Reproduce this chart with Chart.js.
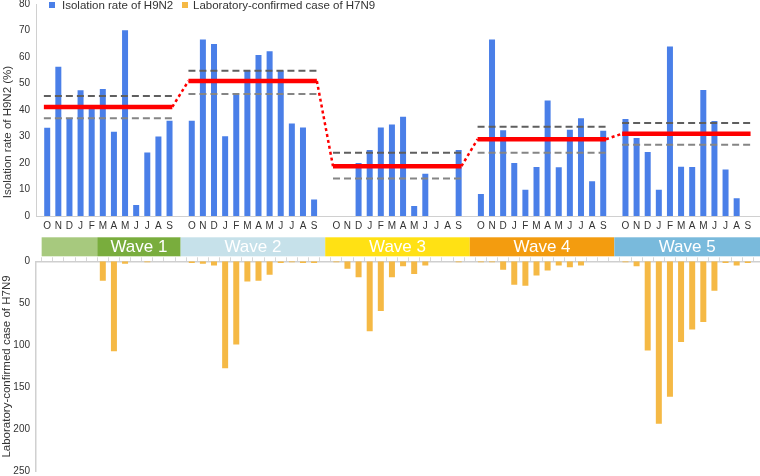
<!DOCTYPE html>
<html>
<head>
<meta charset="utf-8">
<title>H9N2 isolation rate and H7N9 cases by wave</title>
<script src="https://cdn.jsdelivr.net/npm/chart.js@4.4.1/dist/chart.umd.min.js"></script>
<style>
    html, body { margin: 0; padding: 0; background: #fff; overflow: hidden; }
    #page { position: relative; width: 760px; height: 476px; overflow: hidden; font-family: "Liberation Sans", Arial, sans-serif; color: #333; }
    #topCanvas { position: absolute; left: 0; top: -2px; }
    #bottomCanvas { position: absolute; left: 0; top: 234px; }
    .legend-box { position: absolute; width: 6px; height: 6px; top: 2px; }
    .legend-text { position: absolute; top: -2px; font-size: 11.5px; line-height: 14px; white-space: nowrap; }
    #topTitle { position: absolute; width: 200px; left: -93px; top: 125px; font-size: 11.5px; line-height: 14px; text-align: center; transform: rotate(-90deg); white-space: nowrap; }
</style>
</head>
<body>
<div id="page">
    <canvas id="topCanvas" width="760" height="238"></canvas>
    <canvas id="bottomCanvas" width="760" height="244"></canvas>
    <div class="legend-box" style="left:49px;background:#4a7fe8"></div>
    <div class="legend-text" style="left:62px">Isolation rate of H9N2</div>
    <div class="legend-box" style="left:182px;background:#f5b945"></div>
    <div class="legend-text" style="left:193px">Laboratory-confirmed case of H7N9</div>
    <div id="topTitle">Isolation rate of H9N2 (%)</div>
</div>
<script>
// Months of each surveillance year (October to September)
const months = ['O', 'N', 'D', 'J', 'F', 'M', 'A', 'M', 'J', 'J', 'A', 'S'];

// H9N2 isolation rate (%) per month, one array per wave
const h9n2Wave1 = [33.3, 56.4, 37.0, 47.5, 40.5, 48.0, 31.8, 70.2, 4.2, 24.0, 30.0, 36.0];
const h9n2Wave2 = [36.0, 66.7, 65.0, 30.1, 45.7, 54.8, 60.8, 62.2, 55.0, 34.9, 33.4, 6.2];
const h9n2Wave3 = [0, 0, 20.0, 24.9, 33.4, 34.6, 37.5, 3.8, 16.0, 0, 0, 24.9];
const h9n2Wave4 = [8.3, 66.7, 32.4, 20.0, 9.9, 18.5, 43.6, 18.4, 32.6, 36.9, 13.1, 32.2];
const h9n2Wave5 = [36.6, 29.5, 24.2, 9.9, 64.0, 18.6, 18.5, 47.6, 35.9, 17.6, 6.7, 0];

// Laboratory-confirmed H7N9 cases per month, one array per wave
const h7n9Wave1 = [0, 0, 0, 0, 0, 23, 107, 3, 0, 1, 0, 0];
const h7n9Wave2 = [2, 3, 5, 127, 99, 24, 23, 16, 2, 1, 2, 2];
const h7n9Wave3 = [1, 9, 19, 83, 59, 19, 6, 15, 5, 0, 0, 1];
const h7n9Wave4 = [1, 1, 10, 28, 29, 17, 11, 5, 7, 5, 0, 0];
const h7n9Wave5 = [1, 6, 106, 193, 161, 96, 81, 72, 35, 2, 5, 2];

// Mean isolation rate per wave and its confidence bounds
const waveMean = [41.2, 51.0, 18.8, 29.0, 31.1];
const waveUpper = [45.3, 54.9, 23.9, 33.7, 35.1];
const waveLower = [36.9, 46.1, 14.2, 23.9, 26.9];

// Wave band (month slot boundaries)
const bandLabels = ['', 'Wave 1', 'Wave 2', 'Wave 3', 'Wave 4', 'Wave 5'];
const bandStart = [-0.5, 4.5, 12, 25, 38, 51];
const bandEnd = [4.5, 12, 25, 38, 51, 63.5];
const bandColors = ['#a7c97e', '#79ad3d', '#c6e1ea', '#ffe114', '#f39c0f', '#79badc'];

// Axis ticks
const rateTicks = [0, 10, 20, 30, 40, 50, 60, 70, 80];
const caseTicks = [0, 50, 100, 150, 200, 250];

const FONT = '"Liberation Sans", Arial, sans-serif';

class WaveChartPage {
    constructor() {
        this.rateWaves = [h9n2Wave1, h9n2Wave2, h9n2Wave3, h9n2Wave4, h9n2Wave5];
        this.caseWaves = [h7n9Wave1, h7n9Wave2, h7n9Wave3, h7n9Wave4, h7n9Wave5];
        this.groupSize = months.length + 1; // one empty slot between waves
        this.init();
    }

    init() {
        this.buildSlots();
        this.loadTopChart();
        this.loadBottomChart();
    }

    slot(wave, month) {
        return wave * this.groupSize + month;
    }

    buildSlots() {
        this.slotLabels = [];
        this.rateWaves.forEach((w, g) => {
            months.forEach(m => this.slotLabels.push(m));
            if (g < this.rateWaves.length - 1) this.slotLabels.push('');
        });
        this.xMin = -0.5;
        this.xMax = this.slotLabels.length - 0.5;
    }

    toPoints(waves) {
        const pts = [];
        waves.forEach((vals, g) => vals.forEach((v, m) => pts.push({ x: this.slot(g, m), y: v })));
        return pts;
    }

    // Horizontal segment per wave; null breaks the line between waves
    wavePath(values) {
        const pts = [];
        values.forEach((v, g) => {
            pts.push({ x: this.slot(g, 0) - 0.3, y: v });
            pts.push({ x: this.slot(g, 11) + 0.25, y: v });
            pts.push({ x: this.slot(g, 11) + 0.5, y: null });
        });
        return pts;
    }

    // Mean path: solid inside a wave, dotted between waves
    meanPath() {
        const pts = [];
        waveMean.forEach((v, g) => {
            pts.push({ x: this.slot(g, 0) - 0.3, y: v });
            pts.push({ x: this.slot(g, 11) + 0.25, y: v });
        });
        return pts;
    }

    xAxis(extra) {
        return Object.assign({
            type: 'linear',
            min: this.xMin,
            max: this.xMax,
            afterBuildTicks: (axis) => {
                axis.ticks = this.slotLabels.map((l, i) => ({ value: i }));
            }
        }, extra);
    }

    loadTopChart() {
        const ctx = document.getElementById('topCanvas').getContext('2d');
        this.topChart = new Chart(ctx, {
            type: 'bar',
            data: {
                datasets: [
                    {
                        type: 'line',
                        data: this.meanPath(),
                        borderColor: '#ff0000',
                        borderWidth: 4.5,
                        pointRadius: 0,
                        order: 1,
                        segment: {
                            borderDash: c => (c.p0DataIndex % 2 === 1 ? [3, 3] : undefined),
                            borderWidth: c => (c.p0DataIndex % 2 === 1 ? 2.5 : 4.5)
                        }
                    },
                    {
                        type: 'line',
                        data: this.wavePath(waveUpper),
                        borderColor: '#5f5f5f',
                        borderWidth: 2,
                        borderDash: [7, 4],
                        pointRadius: 0,
                        spanGaps: false,
                        order: 2
                    },
                    {
                        type: 'line',
                        data: this.wavePath(waveLower),
                        borderColor: '#858585',
                        borderWidth: 2,
                        borderDash: [7, 4],
                        pointRadius: 0,
                        spanGaps: false,
                        order: 2
                    },
                    {
                        label: 'Isolation rate of H9N2',
                        data: this.toPoints(this.rateWaves),
                        backgroundColor: '#4a7fe8',
                        barThickness: 6,
                        inflateAmount: 0,
                        order: 3
                    }
                ]
            },
            options: {
                responsive: false,
                animation: false,
                layout: { padding: { top: 6.2, right: 1, left: 0, bottom: 0 } },
                plugins: { legend: { display: false }, tooltip: { enabled: false } },
                scales: {
                    x: this.xAxis({
                        grid: { display: false, drawTicks: false },
                        border: { color: '#d0d0d0' },
                        ticks: {
                            autoSkip: false,
                            maxRotation: 0,
                            padding: 4,
                            color: '#333',
                            font: { family: FONT, size: 10 },
                            callback: (v) => this.slotLabels[v] || ''
                        },
                        afterFit: (axis) => { axis.height = 20; }
                    }),
                    y: {
                        min: 0,
                        max: 80,
                        afterBuildTicks: (axis) => { axis.ticks = rateTicks.map(v => ({ value: v })); },
                        grid: { display: false, drawTicks: false },
                        border: { color: '#d0d0d0' },
                        ticks: { padding: 6, color: '#333', font: { family: FONT, size: 10 } },
                        afterFit: (axis) => {
                            axis.width = 36;
                            axis.paddingTop = 0;
                            axis.paddingBottom = 0;
                        }
                    }
                }
            }
        });
    }

    loadBottomChart() {
        const ctx = document.getElementById('bottomCanvas').getContext('2d');
        const bandPlugin = {
            id: 'waveBand',
            afterDraw: (chart) => {
                const c = chart.ctx;
                const xs = chart.scales.x;
                const top = chart.chartArea.top - 24;
                const h = 19;
                c.save();
                bandLabels.forEach((label, i) => {
                    const x0 = xs.getPixelForValue(bandStart[i]);
                    const x1 = i === bandLabels.length - 1 ? chart.width : xs.getPixelForValue(bandEnd[i]);
                    c.fillStyle = bandColors[i];
                    c.fillRect(x0, top, x1 - x0, h);
                    if (label) {
                        c.fillStyle = '#ffffff';
                        c.font = '17px ' + FONT;
                        c.textAlign = 'center';
                        c.textBaseline = 'middle';
                        c.fillText(label, (x0 + x1) / 2, top + h / 2 + 1);
                    }
                });
                c.restore();
            }
        };

        this.bottomChart = new Chart(ctx, {
            type: 'bar',
            data: {
                datasets: [{
                    label: 'Laboratory-confirmed case of H7N9',
                    data: this.toPoints(this.caseWaves),
                    backgroundColor: '#f5b945',
                    barThickness: 6,
                    inflateAmount: 0
                }]
            },
            options: {
                responsive: false,
                animation: false,
                layout: { padding: { top: 23.3, right: 1, left: 0, bottom: 6.3 } },
                plugins: { legend: { display: false }, tooltip: { enabled: false } },
                scales: {
                    x: this.xAxis({
                        position: 'top',
                        grid: { drawOnChartArea: false, drawTicks: true, tickLength: 4, color: '#d6d6d6' },
                        border: { color: '#cfcfcf', width: 1.5 },
                        ticks: { display: false },
                        afterFit: (axis) => { axis.height = 4; }
                    }),
                    y: {
                        reverse: true,
                        min: 0,
                        max: 250,
                        afterBuildTicks: (axis) => { axis.ticks = caseTicks.map(v => ({ value: v })); },
                        grid: { display: false, drawTicks: false },
                        border: { color: '#d0d0d0', width: 1.5 },
                        ticks: { padding: 6, color: '#333', font: { family: FONT, size: 10 } },
                        title: {
                            display: true,
                            text: 'Laboratory-confirmed case of H7N9',
                            color: '#333',
                            padding: 0,
                            font: { family: FONT, size: 11.5 }
                        },
                        afterFit: (axis) => {
                            axis.width = 36;
                            axis.paddingTop = 0;
                            axis.paddingBottom = 0;
                        }
                    }
                }
            },
            plugins: [bandPlugin]
        });
    }
}

document.addEventListener('DOMContentLoaded', () => {
    new WaveChartPage();
});
</script>
</body>
</html>
